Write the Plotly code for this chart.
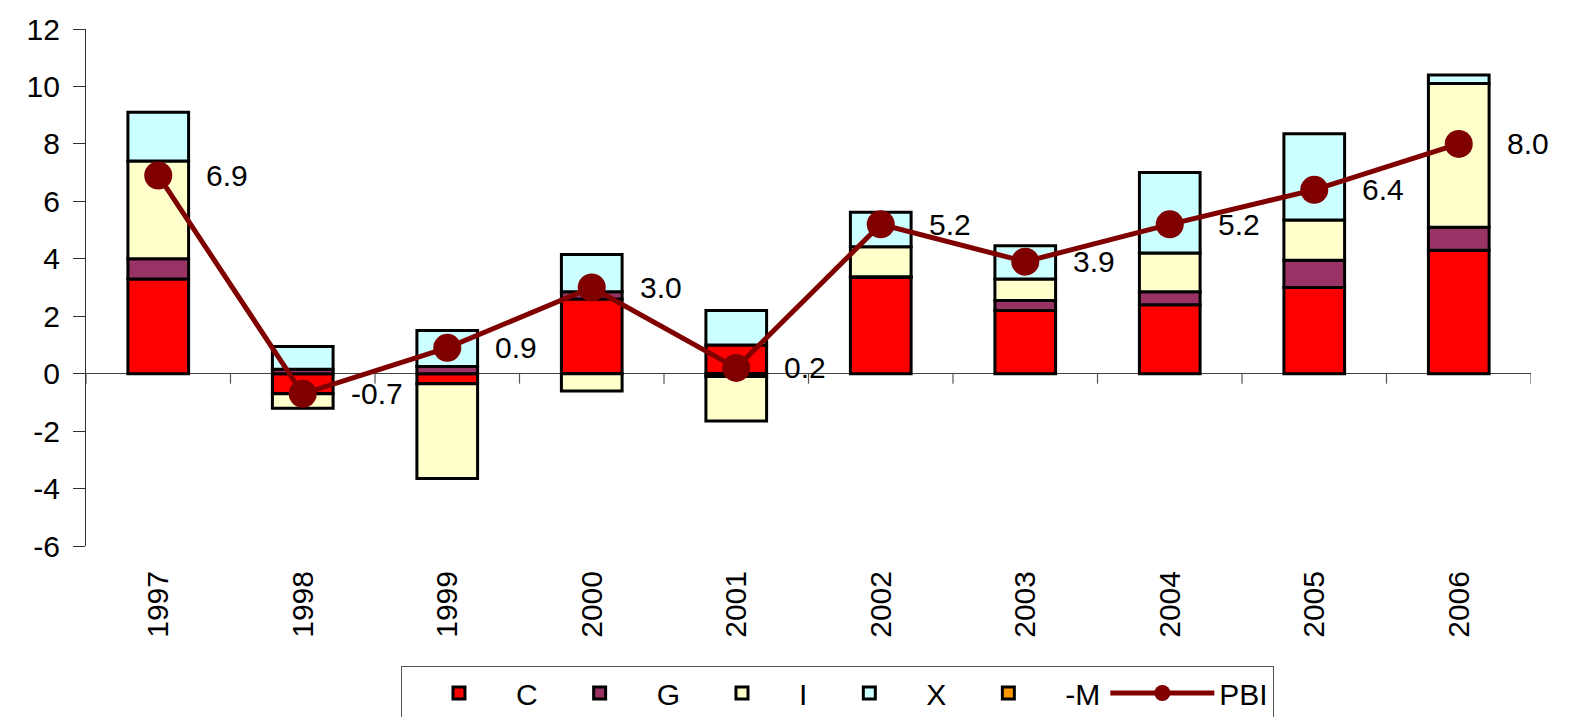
import plotly.graph_objects as go

years = ["1997", "1998", "1999", "2000", "2001", "2002", "2003", "2004", "2005", "2006"]
C = [3.3, -0.7, -0.35, 2.6, 1.0, 3.35, 2.2, 2.4, 3.0, 4.3]
G = [0.7, 0.15, 0.25, 0.25, -0.1, 0.02, 0.35, 0.45, 0.95, 0.8]
I = [3.4, -0.5, -3.3, -0.6, -1.55, 1.05, 0.75, 1.35, 1.4, 5.0]
X = [1.7, 0.8, 1.25, 1.3, 1.2, 1.2, 1.15, 2.8, 3.0, 0.3]
M = [None] * 10
PBI = [6.9, -0.7, 0.9, 3.0, 0.2, 5.2, 3.9, 5.2, 6.4, 8.0]
pbi_labels = ["6.9", "-0.7", "0.9", "3.0", "0.2", "5.2", "3.9", "5.2", "6.4", "8.0"]
y_ticks = [-6, -4, -2, 0, 2, 4, 6, 8, 10, 12]
y_tick_text = ["-6", "-4", "-2", "0", "2", "4", "6", "8", "10", "12"]

FONT = "Liberation Sans, Arial, sans-serif"
series = [("C", C, "#FF0000"), ("G", G, "#993366"), ("I", I, "#FFFFCC"),
          ("X", X, "#CCFFFF"), ("-M", M, "#FF9900")]

fig = go.Figure()
for name, vals, col in series:
    fig.add_trace(go.Bar(x=years, y=vals, name=name,
                         marker=dict(color=col, line=dict(color="black", width=3))))

fig.add_trace(go.Scatter(x=years, y=PBI, name="PBI", mode="lines+markers",
                         line=dict(color="#800000", width=5),
                         marker=dict(color="#800000", size=28)))

for i, (v, t) in enumerate(zip(PBI, pbi_labels)):
    fig.add_annotation(x=i, y=v, xref="x", yref="y", text=t, showarrow=False,
                       xanchor="left", yanchor="middle", xshift=46,
                       font=dict(family=FONT, size=30, color="black"))

# category boundary tick marks hanging below the zero line
for i in range(len(years) + 1):
    fig.add_shape(type="line", xref="x", yref="y", x0=i - 0.5, x1=i - 0.5,
                  ysizemode="pixel", yanchor=0, y0=0, y1=-10,
                  line=dict(color="#555555", width=1.2))

fig.update_layout(
    width=1570, height=717,
    margin=dict(l=78, r=47, t=21, b=179, autoexpand=False),
    paper_bgcolor="white", plot_bgcolor="white",
    barmode="relative", bargap=0.58,
    font=dict(family=FONT, color="black"),
    showlegend=True,
    legend=dict(orientation="h", xref="container", yref="container",
                x=0.2503, y=0.0823, xanchor="left", yanchor="top",
                bordercolor="#555555", borderwidth=1,
                font=dict(family=FONT, size=30, color="black"),
                itemwidth=104, traceorder="normal", tracegroupgap=0),
)
fig.update_xaxes(type="category", range=[-0.5, 9.5], showline=False, showgrid=False,
                 ticks="", tickangle=-90,
                 tickfont=dict(family=FONT, size=30, color="black"),
                 ticklabelstandoff=18)
fig.update_yaxes(range=[-6, 12], tickvals=y_ticks, ticktext=y_tick_text,
                 showgrid=False, showline=True,
                 linecolor="#333333", linewidth=1.2, ticks="outside", ticklen=12,
                 tickcolor="#333333", zeroline=True, zerolinecolor="#444444",
                 zerolinewidth=1.2, tickfont=dict(family=FONT, size=30, color="black"),
                 ticklabelstandoff=7)

fig.write_html("out.html")
